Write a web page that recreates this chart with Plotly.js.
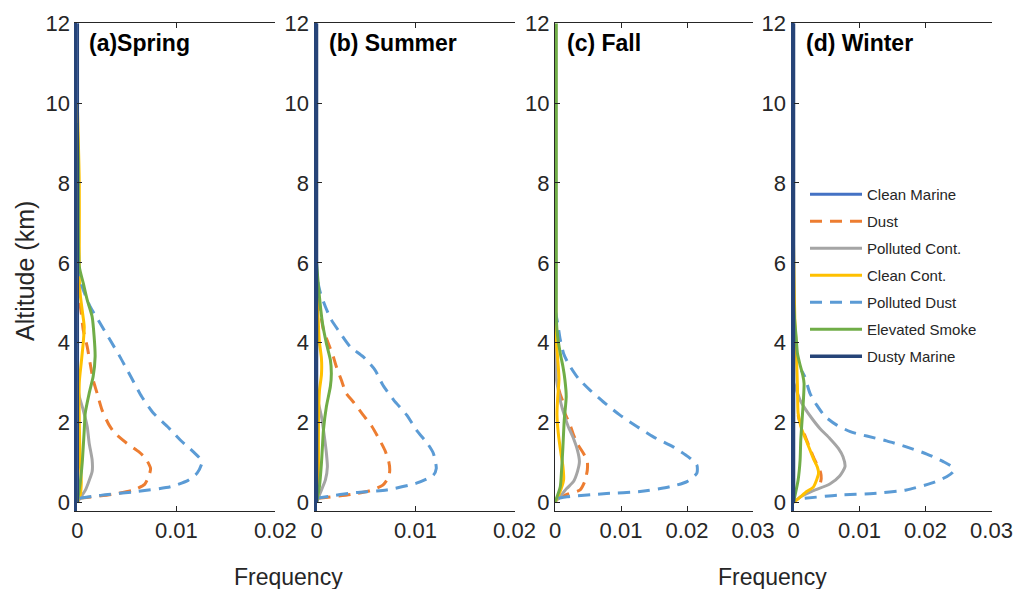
<!DOCTYPE html>
<html>
<head>
<meta charset="utf-8">
<script src="https://cdn.plot.ly/plotly-3.0.1.min.js"></script>
<style>
  html, body { margin: 0; padding: 0; background: #ffffff; }
  #chart { width: 1017px; height: 589px; }
</style>
</head>
<body>
<div id="chart"></div>
<script>
// ---- Aerosol type vertical frequency profiles, by season ----
const panelTitles = ['(a)Spring', '(b) Summer', '(c) Fall', '(d) Winter'];
const typeNames = ['Clean Marine', 'Dust', 'Polluted Cont.', 'Clean Cont.', 'Polluted Dust', 'Elevated Smoke', 'Dusty Marine'];
const xTickVals = [[0, 0.01, 0.02], [0, 0.01, 0.02], [0, 0.01, 0.02, 0.03], [0, 0.01, 0.02, 0.03]];
const xTickText = [['0', '0.01', '0.02'], ['0', '0.01', '0.02'], ['0', '0.01', '0.02', '0.03'], ['0', '0.01', '0.02', '0.03']];
const yTickVals = [0, 2, 4, 6, 8, 10, 12];

// Spring
const springCleanMarineAlt = [0, 12];
const springCleanMarine = [0, 0];
const springDustAlt = [0.1, 0.2, 0.3, 0.45, 0.64, 0.85, 1.1, 1.27, 1.48, 1.73, 1.94, 2.31, 2.73, 3.07, 3.48, 3.9, 4.32, 4.74, 5.1, 5.5];
const springDust = [0.0002, 0.0035, 0.0056, 0.0068, 0.0072, 0.0074, 0.0069, 0.0062, 0.005, 0.0038, 0.0032, 0.0025, 0.002, 0.0016, 0.0013, 0.001, 0.0006, 0.0004, 0.0002, 0];
const springPollutedContAlt = [0, 0.15, 0.3, 0.48, 0.77, 1.06, 1.48, 1.9, 2.31, 2.65, 3.0];
const springPollutedCont = [0, 0.0004, 0.0008, 0.0011, 0.0015, 0.0015, 0.0012, 0.001, 0.0006, 0.0002, 0];
const springCleanContAlt = [0, 0.2, 0.5, 1.0, 2.0, 3.0, 3.5, 4.0, 4.4, 4.8, 5.2, 5.6, 6.5, 8, 10];
const springCleanCont = [0, 0.0003, 0.0004, 0.0003, 0.0002, 0.0002, 0.0004, 0.0006, 0.0007, 0.0005, 0.0003, 0.0002, 0.0002, 0.0002, 0];
const springPollutedDustAlt = [0.1, 0.18, 0.27, 0.39, 0.55, 0.73, 1.02, 1.27, 1.56, 1.9, 2.23, 2.65, 3.15, 3.65, 4.07, 4.53, 4.9, 5.4, 5.9, 6.3];
const springPollutedDust = [0.0002, 0.0025, 0.006, 0.0094, 0.0112, 0.0121, 0.0126, 0.0117, 0.0104, 0.0091, 0.0077, 0.0065, 0.0054, 0.0043, 0.0033, 0.0022, 0.0013, 0.0005, 0.0001, 0];
const springSmokeAlt = [0, 0.5, 1.0, 1.39, 1.8, 2.23, 2.73, 3.15, 3.65, 4.15, 4.65, 5.07, 5.49, 5.9, 7, 8.5, 9.5];
const springSmoke = [0, 0.0003, 0.0005, 0.0006, 0.0007, 0.0008, 0.0012, 0.0016, 0.0018, 0.0017, 0.0015, 0.001, 0.0006, 0.0002, 0.0001, 0.0001, 0];
const springDustyMarineAlt = [0, 12];
const springDustyMarine = [0, 0];

// Summer
const summerCleanMarineAlt = [0, 12];
const summerCleanMarine = [0, 0];
const summerDustAlt = [0.1, 0.2, 0.29, 0.43, 0.64, 0.81, 1.02, 1.31, 1.64, 1.9, 2.19, 2.52, 2.73, 3.07, 3.4, 3.65, 3.98, 4.32, 4.74, 5.07, 5.4];
const summerDust = [0.0002, 0.0035, 0.0054, 0.0067, 0.0073, 0.0074, 0.0073, 0.0069, 0.0062, 0.0056, 0.0047, 0.0037, 0.003, 0.0025, 0.002, 0.0017, 0.0012, 0.0007, 0.0004, 0.0001, 0];
const summerPollutedContAlt = [0, 0.25, 0.56, 0.89, 1.23, 1.64, 2.15, 2.48, 2.8];
const summerPollutedCont = [0, 0.0004, 0.0009, 0.0011, 0.001, 0.0008, 0.0005, 0.0002, 0];
const summerCleanContAlt = [0, 0.3, 1.0, 2.0, 2.8, 3.2, 3.6, 4.0, 4.4, 5.0, 5.6];
const summerCleanCont = [0, 0.0002, 0.0002, 0.0002, 0.0003, 0.0005, 0.0005, 0.0003, 0.0002, 0.0001, 0];
const summerPollutedDustAlt = [0.1, 0.14, 0.24, 0.31, 0.48, 0.68, 0.85, 1.23, 1.44, 1.81, 2.19, 2.56, 2.94, 3.32, 3.65, 3.9, 4.24, 4.57, 4.9, 5.24, 5.57, 6.0];
const summerPollutedDust = [0, 0.001, 0.0037, 0.0071, 0.0101, 0.0118, 0.0121, 0.0118, 0.0113, 0.0101, 0.0091, 0.0078, 0.0067, 0.0059, 0.0047, 0.0034, 0.0024, 0.0015, 0.0009, 0.0004, 0.0001, 0];
const summerSmokeAlt = [0, 0.4, 0.98, 1.4, 1.81, 2.4, 2.9, 3.23, 3.57, 3.98, 4.49, 4.9, 5.4, 6.0];
const summerSmoke = [0, 0.0003, 0.0005, 0.0006, 0.0007, 0.001, 0.0014, 0.0015, 0.0014, 0.001, 0.0006, 0.0004, 0.0002, 0];
const summerDustyMarineAlt = [0, 12];
const summerDustyMarine = [0, 0];

// Fall
const fallDustAlt = [0.1, 0.21, 0.31, 0.52, 0.81, 1.02, 1.23, 1.44, 1.69, 1.98, 2.23, 2.52, 2.7, 3.0];
const fallDust = [0.0005, 0.002, 0.0038, 0.0045, 0.0049, 0.0049, 0.0043, 0.0035, 0.0028, 0.0022, 0.0015, 0.0012, 0.0008, 0.0003];
const fallPollutedContAlt = [0, 0.15, 0.35, 0.52, 0.77, 1.02, 1.31, 1.6, 1.9, 2.19, 2.48, 2.81, 3.1, 4.0, 5.0];
const fallPollutedCont = [0, 0.0008, 0.0018, 0.0028, 0.0034, 0.0037, 0.0034, 0.0028, 0.002, 0.0014, 0.0009, 0.0005, 0.0002, 0.0001, 0];
const fallCleanContAlt = [0, 0.2, 0.56, 0.9, 1.23, 1.73, 2.2, 2.6, 3.07, 3.4, 4.07, 5.0, 6.0];
const fallCleanCont = [0, 0.0006, 0.0013, 0.0012, 0.0009, 0.0005, 0.0003, 0.0004, 0.0006, 0.0005, 0.0002, 0.0001, 0];
const fallPollutedDustAlt = [0.1, 0.14, 0.22, 0.27, 0.39, 0.52, 0.73, 0.93, 1.14, 1.39, 1.64, 1.9, 2.19, 2.52, 2.81, 3.11, 3.48, 3.73, 4.07, 4.49, 4.75];
const fallPollutedDust = [0.0005, 0.0018, 0.0078, 0.0129, 0.0174, 0.02, 0.0215, 0.0215, 0.0202, 0.0179, 0.0149, 0.0124, 0.0098, 0.0073, 0.0053, 0.0035, 0.002, 0.0013, 0.0008, 0.0004, 0.0001];
const fallSmokeAlt = [0, 0.39, 0.81, 1.39, 2.06, 2.65, 3.07, 3.4, 3.73, 4.15, 4.6, 5.2, 6, 8, 10, 12];
const fallSmoke = [0, 0.0008, 0.001, 0.0012, 0.0014, 0.0017, 0.0015, 0.0012, 0.0008, 0.0004, 0.0002, 0.0002, 0.0002, 0.0002, 0.0002, 0.0002];

// Winter
const winterCleanMarineAlt = [0, 12];
const winterCleanMarine = [0, 0];
const winterDustAlt = [0.5, 0.6, 0.75, 0.9, 1.1, 1.3, 1.6, 1.9, 2.1, 2.3];
const winterDust = [0.0041, 0.0042, 0.0041, 0.0037, 0.0031, 0.0026, 0.0019, 0.0012, 0.0008, 0.0006];
const winterPollutedContAlt = [0, 0.15, 0.29, 0.46, 0.66, 0.89, 1.14, 1.35, 1.6, 1.85, 2.1, 2.36, 2.56, 2.73, 3.0];
const winterPollutedCont = [0, 0.0012, 0.003, 0.0055, 0.007, 0.0078, 0.0075, 0.0068, 0.0055, 0.004, 0.0028, 0.0017, 0.001, 0.0006, 0];
const winterCleanContAlt = [0, 0.1, 0.27, 0.38, 0.56, 0.73, 0.89, 1.1, 1.31, 1.56, 1.85, 2.23, 2.9, 3.9, 4.6, 5.5, 6.5];
const winterCleanCont = [0, 0.0008, 0.002, 0.003, 0.0035, 0.0038, 0.0036, 0.003, 0.0025, 0.0019, 0.0012, 0.0007, 0.0006, 0.0004, 0.0002, 0.0001, 0];
const winterPollutedDustAlt = [0.1, 0.18, 0.22, 0.31, 0.48, 0.64, 0.77, 0.89, 1.02, 1.21, 1.39, 1.54, 1.66, 1.77, 1.94, 2.15, 2.44, 2.73, 3.15, 3.3];
const winterPollutedDust = [0.0017, 0.0068, 0.0121, 0.0171, 0.0209, 0.0232, 0.0242, 0.024, 0.0227, 0.0202, 0.0171, 0.0141, 0.0111, 0.0086, 0.0065, 0.0048, 0.0035, 0.0025, 0.0017, 0.0012];
const winterSmokeAlt = [0, 0.56, 1.06, 1.56, 2.06, 2.56, 2.98, 3.19, 3.44, 3.73, 4.15, 4.5, 5.0];
const winterSmoke = [0, 0.0007, 0.001, 0.0011, 0.0013, 0.0015, 0.0016, 0.0014, 0.001, 0.0006, 0.0004, 0.0002, 0];
const winterDustyMarineAlt = [0, 12];
const winterDustyMarine = [0, 0];

// profiles per panel, in type order (null = not drawn in that season)
const profiles = [
  [[springCleanMarine, springCleanMarineAlt], [springDust, springDustAlt], [springPollutedCont, springPollutedContAlt],
   [springCleanCont, springCleanContAlt], [springPollutedDust, springPollutedDustAlt], [springSmoke, springSmokeAlt],
   [springDustyMarine, springDustyMarineAlt]],
  [[summerCleanMarine, summerCleanMarineAlt], [summerDust, summerDustAlt], [summerPollutedCont, summerPollutedContAlt],
   [summerCleanCont, summerCleanContAlt], [summerPollutedDust, summerPollutedDustAlt], [summerSmoke, summerSmokeAlt],
   [summerDustyMarine, summerDustyMarineAlt]],
  [null, [fallDust, fallDustAlt], [fallPollutedCont, fallPollutedContAlt],
   [fallCleanCont, fallCleanContAlt], [fallPollutedDust, fallPollutedDustAlt], [fallSmoke, fallSmokeAlt],
   null],
  [[winterCleanMarine, winterCleanMarineAlt], [winterDust, winterDustAlt], [winterPollutedCont, winterPollutedContAlt],
   [winterCleanCont, winterCleanContAlt], [winterPollutedDust, winterPollutedDustAlt], [winterSmoke, winterSmokeAlt],
   [winterDustyMarine, winterDustyMarineAlt]]
];

// ---- styling ----
const W = 1017, H = 589;
const FONT = 'Liberation Sans, Arial, Helvetica, sans-serif';
const INK = '#262626';
const typeColors = ['#4472C4', '#ED7D31', '#A5A5A5', '#FFC000', '#5B9BD5', '#70AD47', '#264478'];
const typeDash = ['solid', '12px,8px', 'solid', 'solid', '12px,8px', 'solid', 'solid'];
const typeWidth = [3, 3, 3, 3, 3, 3, 3.5];
const xMax = [0.02, 0.02, 0.03, 0.03];
const panelLeft = [77.3, 316.5, 555, 793.5];
const panelWidth = 198;
const plotTop = 23.3, plotBottom = 510.7;

const traces = [];
const layout = {
  width: W, height: H,
  margin: {l: 0, r: 0, t: 0, b: 0},
  paper_bgcolor: '#ffffff', plot_bgcolor: 'rgba(0,0,0,0)',
  font: {family: FONT, color: INK},
  showlegend: true,
  legend: {
    x: 805 / W, y: 1 - 178 / H, xanchor: 'left', yanchor: 'top',
    bgcolor: 'rgba(0,0,0,0)', borderwidth: 0,
    font: {family: FONT, size: 15, color: INK},
    traceorder: 'grouped', tracegroupgap: 4.5, itemwidth: 52
  },
  annotations: []
};

const yDomain = [1 - plotBottom / H, 1 - plotTop / H];

panelTitles.forEach((title, p) => {
  const sfx = p === 0 ? '' : String(p + 1);
  const xa = 'x' + sfx, ya = 'y' + sfx;
  const overlayY = 'yaxis' + (p + 5);

  profiles[p].forEach((prof, t) => {
    if (!prof) return;
    traces.push({
      type: 'scatter', mode: 'lines',
      x: prof[0], y: prof[1],
      xaxis: xa, yaxis: ya,
      name: typeNames[t], legendgroup: typeNames[t],
      showlegend: p === 3,
      line: {color: typeColors[t], width: typeWidth[t], dash: typeDash[t], shape: 'spline', smoothing: 0.6},
      hoverinfo: 'x+y+name'
    });
  });

  const edgeColor = p === 2 ? INK : '#264478';
  layout['xaxis' + sfx] = {
    domain: [panelLeft[p] / W, (panelLeft[p] + panelWidth) / W],
    anchor: ya, range: [0, xMax[p]],
    tickmode: 'array', tickvals: xTickVals[p], ticktext: xTickText[p],
    ticks: 'inside', ticklen: 5, tickcolor: INK, tickwidth: 1,
    showline: true, linecolor: INK, linewidth: 1, mirror: 'ticks',
    showgrid: false, zeroline: false,
    tickfont: {family: FONT, size: 22, color: INK}
  };
  layout['yaxis' + sfx] = {
    domain: yDomain, anchor: xa, range: [-0.21, 12],
    tickmode: 'array', tickvals: yTickVals,
    ticks: 'inside', ticklen: 5, tickcolor: INK, tickwidth: 1,
    showline: true, linecolor: edgeColor, linewidth: p === 2 ? 1 : 3, mirror: false,
    showgrid: false, zeroline: false,
    tickfont: {family: FONT, size: 22, color: INK}
  };
  // right-hand frame edge with mirrored ticks
  layout[overlayY] = {
    overlaying: ya, side: 'right', anchor: xa, range: [-0.21, 12],
    tickmode: 'array', tickvals: yTickVals,
    ticks: 'inside', ticklen: 5, tickcolor: INK, tickwidth: 1,
    showline: true, linecolor: INK, linewidth: 1,
    showticklabels: false, showgrid: false, zeroline: false
  };

  layout.annotations.push({
    xref: 'paper', yref: 'paper',
    x: (panelLeft[p] + 10) / W, y: 1 - 43 / H,
    xanchor: 'left', yanchor: 'middle', showarrow: false,
    text: title,
    font: {family: FONT, size: 23, color: '#000000', weight: 'bold'}
  });
});

// shared axis labels
layout.annotations.push(
  {xref: 'paper', yref: 'paper', x: 288 / W, y: 1 - 577 / H, xanchor: 'center', yanchor: 'middle',
   showarrow: false, text: 'Frequency', font: {family: FONT, size: 23, color: INK}},
  {xref: 'paper', yref: 'paper', x: 772 / W, y: 1 - 577 / H, xanchor: 'center', yanchor: 'middle',
   showarrow: false, text: 'Frequency', font: {family: FONT, size: 23, color: INK}},
  {xref: 'paper', yref: 'paper', x: 25 / W, y: 1 - 271 / H, xanchor: 'center', yanchor: 'middle',
   textangle: -90, showarrow: false, text: 'Altitude (km)', font: {family: FONT, size: 25, color: INK}}
);

Plotly.newPlot('chart', traces, layout, {staticPlot: true, displayModeBar: false});
</script>
</body>
</html>
